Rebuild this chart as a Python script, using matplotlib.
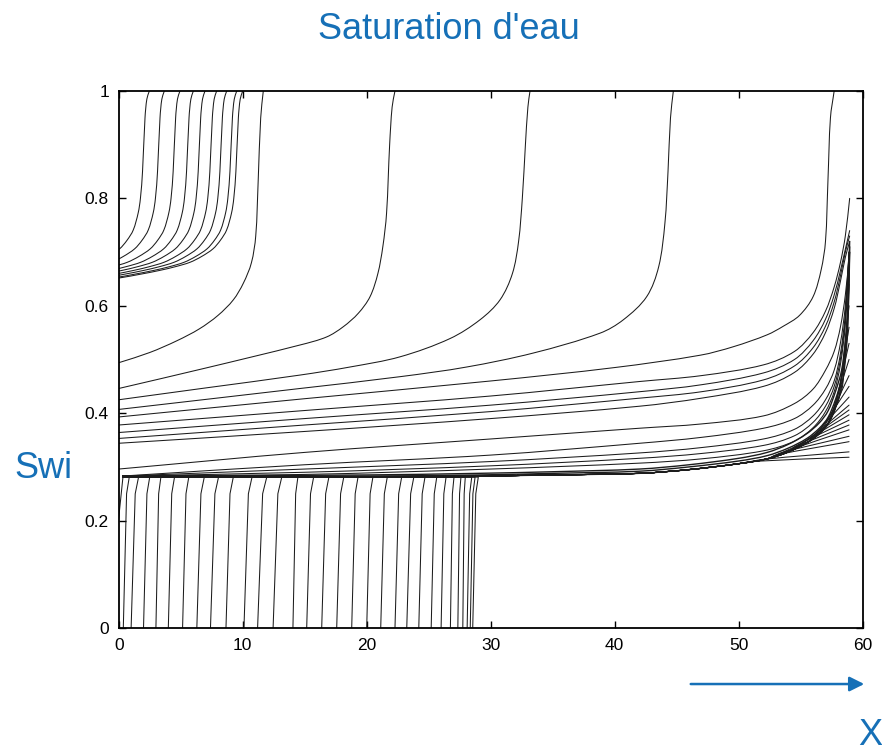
import numpy as np
import matplotlib
matplotlib.use("Agg")
import matplotlib.pyplot as plt
from matplotlib.patches import FancyArrowPatch, PathPatch
from matplotlib.path import Path

plt.rcParams["font.family"] = ["Liberation Sans", "DejaVu Sans"]

# ---------------- data ----------------
# early water fronts: plateau end (top) and foot position at Swi = 0
front_top_x = [0.85, 1.6, 2.5, 3.4, 4.5, 5.65, 6.9, 8.05, 9.24, 10.75, 11.94, 13.15,
               14.45, 15.72, 16.95, 18.15, 19.3, 20.5, 21.66, 22.82, 23.8, 24.7,
               25.65, 26.4, 27.04, 27.6, 27.95, 28.47, 28.74, 29.0]
front_foot_x = [0.37, 1.0, 2.0, 3.0, 4.0, 5.15, 6.3, 7.4, 8.65, 10.1, 11.2, 12.45,
                14.05, 15.16, 16.37, 17.58, 18.79, 20.0, 21.13, 22.28, 23.23, 24.2,
                25.2, 26.0, 26.75, 27.35, 27.75, 28.1, 28.35, 28.55]
plateau_sw = 0.281
inlet_x = [0.0, 0.35]
inlet_sw = [0.205, 0.283]

# high-saturation fronts near the inlet: position where Swi reaches 1
inlet_front_top_x = [2.47, 3.68, 4.94, 6.02, 6.96, 7.9, 8.71, 9.52, 10.0]
# common shape of these fronts: lag behind the top vs Swi
inlet_front_lag = [0.0, 0.2, 0.35, 0.55, 0.72, 0.9, 1.3, 1.8, 2.4, 3.3, 4.25, 5.4,
                   6.67, 8.2, 9.9, 12.0]
inlet_front_sw = [1.0, 0.985, 0.95, 0.85, 0.80, 0.773, 0.741, 0.722, 0.706, 0.692,
                  0.681, 0.673, 0.666, 0.659, 0.652, 0.645]

# five large fronts crossing the whole domain
big1_x = [0, 2.5, 4.7, 6.5, 8.0, 9.24, 10.05, 10.7, 11.05, 11.25, 11.45, 11.66]
big1_sw = [0.494, 0.513, 0.535, 0.557, 0.582, 0.611, 0.642, 0.68, 0.73, 0.834, 0.95, 1.0]
big2_x = [0, 7, 14.62, 16.77, 18.11, 19.32, 20.27, 20.9, 21.3, 21.6, 21.85, 22.05, 22.28]
big2_sw = [0.446, 0.484, 0.527, 0.542, 0.561, 0.586, 0.617, 0.66, 0.71, 0.772, 0.9, 0.97, 1.0]
big3_x = [0, 7, 14.62, 18.65, 22.69, 26.72, 29.14, 30.75, 31.75, 32.25, 32.55, 32.8, 33.0, 33.17]
big3_sw = [0.425, 0.447, 0.471, 0.486, 0.505, 0.539, 0.574, 0.611, 0.66, 0.72, 0.80, 0.9, 0.97, 1.0]
big4_x = [0, 14.62, 22.69, 28.06, 33.43, 38.81, 40.7, 42.58, 43.55, 44.05, 44.3, 44.5, 44.73]
big4_sw = [0.407, 0.446, 0.468, 0.486, 0.512, 0.549, 0.574, 0.617, 0.673, 0.754, 0.85, 0.95, 1.0]
big5_x = [0, 15, 30, 40, 46.9, 49.6, 52.3, 53.6, 54.9, 56.0, 56.65, 57.0, 57.2, 57.4, 57.7]
big5_sw = [0.393, 0.427, 0.46, 0.485, 0.508, 0.524, 0.546, 0.562, 0.582, 0.617, 0.667,
           0.72, 0.834, 0.95, 1.0]

# profiles from the inlet ending in the outlet peak
upper_x = [0, 15, 30, 42, 47, 52, 54.5, 56, 57, 57.7, 58.2, 58.6, 58.95]
upper_sw_1 = [0.378, 0.405, 0.432, 0.459, 0.470, 0.490, 0.515, 0.55, 0.59, 0.635, 0.68, 0.73, 0.80]
upper_sw_2 = [0.364, 0.390, 0.415, 0.440, 0.453, 0.475, 0.500, 0.535, 0.575, 0.62, 0.665, 0.705, 0.74]
upper_sw_3 = [0.353, 0.378, 0.403, 0.428, 0.440, 0.462, 0.488, 0.522, 0.562, 0.607, 0.655, 0.70, 0.73]
upper_sw_4 = [0.344, 0.366, 0.390, 0.413, 0.428, 0.450, 0.476, 0.51, 0.55, 0.595, 0.645, 0.69, 0.72]
upper_sw_5 = [0.296, 0.327, 0.352, 0.372, 0.380, 0.395, 0.418, 0.445, 0.48, 0.515, 0.56, 0.62, 0.70]

# profiles leaving the plateau
mid_x = [0.35, 15, 30, 42, 47, 52, 54.5, 56, 57, 57.7, 58.2, 58.6, 58.9]
mid_sw_1 = [0.283, 0.304, 0.322, 0.344, 0.355, 0.372, 0.39, 0.415, 0.445, 0.48, 0.53, 0.60, 0.70]
mid_sw_2 = [0.283, 0.296, 0.310, 0.326, 0.336, 0.352, 0.37, 0.395, 0.425, 0.46, 0.51, 0.585, 0.70]
mid_sw_3 = [0.283, 0.290, 0.302, 0.316, 0.325, 0.340, 0.358, 0.383, 0.413, 0.45, 0.50, 0.575, 0.70]
mid_sw_4 = [0.283, 0.286, 0.296, 0.307, 0.315, 0.330, 0.348, 0.373, 0.403, 0.44, 0.49, 0.565, 0.69]

# dense bundle with the outlet end effect
bundle_x = [0.35, 10, 20, 29, 35, 42, 46, 50, 52.3, 54, 55.5, 56.5, 57.2, 57.8, 58.3,
            58.6, 58.8, 58.95]
bundle_sw_a = [0.283, 0.282, 0.281, 0.283, 0.285, 0.288, 0.295, 0.306, 0.315, 0.328,
               0.345, 0.362, 0.38, 0.41, 0.45, 0.50, 0.56, 0.70]
bundle_sw_b = [0.283, 0.283, 0.283, 0.285, 0.288, 0.292, 0.300, 0.311, 0.321, 0.335,
               0.353, 0.372, 0.392, 0.425, 0.465, 0.52, 0.58, 0.71]
bundle_sw_c = [0.283, 0.284, 0.285, 0.288, 0.291, 0.296, 0.304, 0.316, 0.327, 0.342,
               0.362, 0.382, 0.404, 0.44, 0.48, 0.535, 0.60, 0.72]

# profiles branching off the bundle towards the outlet value
fan_start_x = [51.0, 52.0, 53.0, 53.4, 53.8, 54.2, 54.6, 55.0, 55.3, 55.6, 56.0, 56.4,
               56.8, 57.2, 57.5, 57.8, 58.1, 58.4]
fan_start_sw = [0.310, 0.314, 0.322, 0.326, 0.329, 0.334, 0.339, 0.343, 0.347, 0.351,
                0.357, 0.364, 0.372, 0.381, 0.395, 0.41, 0.43, 0.455]
fan_end_x = 58.9
fan_end_sw = [0.318, 0.328, 0.347, 0.357, 0.369, 0.378, 0.387, 0.397, 0.406, 0.415,
              0.43, 0.45, 0.47, 0.50, 0.53, 0.56, 0.60, 0.64]

x_ticks = [0, 10, 20, 30, 40, 50, 60]
y_ticks = [0, 0.2, 0.4, 0.6, 0.8, 1.0]
y_tick_labels = ["0", "0.2", "0.4", "0.6", "0.8", "1"]

# ---------------- figure ----------------
BLUE = "#1670b7"
LINE = "#1c1c1c"
LW = 0.75

fig = plt.figure(figsize=(8.82, 7.55), dpi=100)
ax = fig.add_axes([0.1346, 0.1682, 0.8435, 0.7113])

# approximate pixel size of one data unit, used to shape the curves evenly
SX, SY = 12.4, 537.0


def smooth_path(x, y):
    """Cubic Bezier path through the given points (chord-scaled tangents)."""
    P = np.column_stack([np.asarray(x, float) * SX, np.asarray(y, float) * SY])
    n = len(P)
    d = np.linalg.norm(np.diff(P, axis=0), axis=1)
    d[d == 0] = 1e-9
    T = np.zeros_like(P)
    T[0] = (P[1] - P[0]) / d[0]
    T[-1] = (P[-1] - P[-2]) / d[-1]
    for i in range(1, n - 1):
        T[i] = (P[i + 1] - P[i - 1]) / (d[i - 1] + d[i])
    verts = [P[0]]
    codes = [Path.MOVETO]
    for i in range(n - 1):
        verts += [P[i] + T[i] * d[i] / 3.0, P[i + 1] - T[i + 1] * d[i] / 3.0, P[i + 1]]
        codes += [Path.CURVE4] * 3
    verts = np.asarray(verts) / [SX, SY]
    return Path(verts, codes)


def draw_smooth(x, y, lw=LW):
    ax.add_patch(PathPatch(smooth_path(x, y), fill=False, edgecolor=LINE, lw=lw,
                           joinstyle="round", capstyle="round"))


def draw(x, y, lw=LW):
    ax.plot(x, y, color=LINE, lw=lw, solid_joinstyle="round")


# inlet cell
draw(inlet_x, inlet_sw)

# early fronts
for xt, xf in zip(front_top_x, front_foot_x):
    knee = xt - 0.45 * (xt - xf)
    draw([inlet_x[1], xt, knee, xf], [plateau_sw, plateau_sw, 0.25, 0.0])

# inlet high-saturation fronts
lag = np.asarray(inlet_front_lag)
for xt in inlet_front_top_x:
    draw_smooth(xt - lag, inlet_front_sw)

# large fronts
for bx, by in [(big1_x, big1_sw), (big2_x, big2_sw), (big3_x, big3_sw),
               (big4_x, big4_sw), (big5_x, big5_sw)]:
    draw_smooth(bx, by)

for ys in (upper_sw_1, upper_sw_2, upper_sw_3, upper_sw_4, upper_sw_5):
    draw_smooth(upper_x, ys)

for ys in (mid_sw_1, mid_sw_2, mid_sw_3, mid_sw_4):
    draw_smooth(mid_x, ys)

for ys in (bundle_sw_a, bundle_sw_b, bundle_sw_c):
    draw_smooth(bundle_x, ys, lw=1.0)

bx_arr = np.asarray(bundle_x)
by_arr = np.asarray(bundle_sw_a)
for xs, ys, ye in zip(fan_start_x, fan_start_sw, fan_end_sw):
    keep = bx_arr < xs - 0.3
    draw_smooth(list(bx_arr[keep]) + [xs, fan_end_x], list(by_arr[keep]) + [ys, ye])

ax.set_xlim(0, 60)
ax.set_ylim(0, 1)
ax.set_xticks(x_ticks)
ax.set_yticks(y_ticks)
ax.set_yticklabels(y_tick_labels)
ax.tick_params(direction="in", top=True, right=True, length=5, width=1.0,
               labelsize=12.5, pad=7, colors="black")
for sp in ax.spines.values():
    sp.set_linewidth(1.3)

# annotations
fig.text(0.509, 0.961, "Saturation d'eau", color=BLUE, fontsize=26,
         ha="center", va="center")
fig.text(0.049, 0.380, "Swi", color=BLUE, fontsize=26, ha="center", va="center")
fig.text(0.9725, 0.026, "X", color=BLUE, fontsize=26, ha="left", va="center")
arrow = FancyArrowPatch((0.780, 0.094), (0.983, 0.094), transform=fig.transFigure,
                        arrowstyle="-|>", mutation_scale=22, lw=1.8, color=BLUE)
fig.patches.append(arrow)

fig.savefig("out.png", dpi=100)
